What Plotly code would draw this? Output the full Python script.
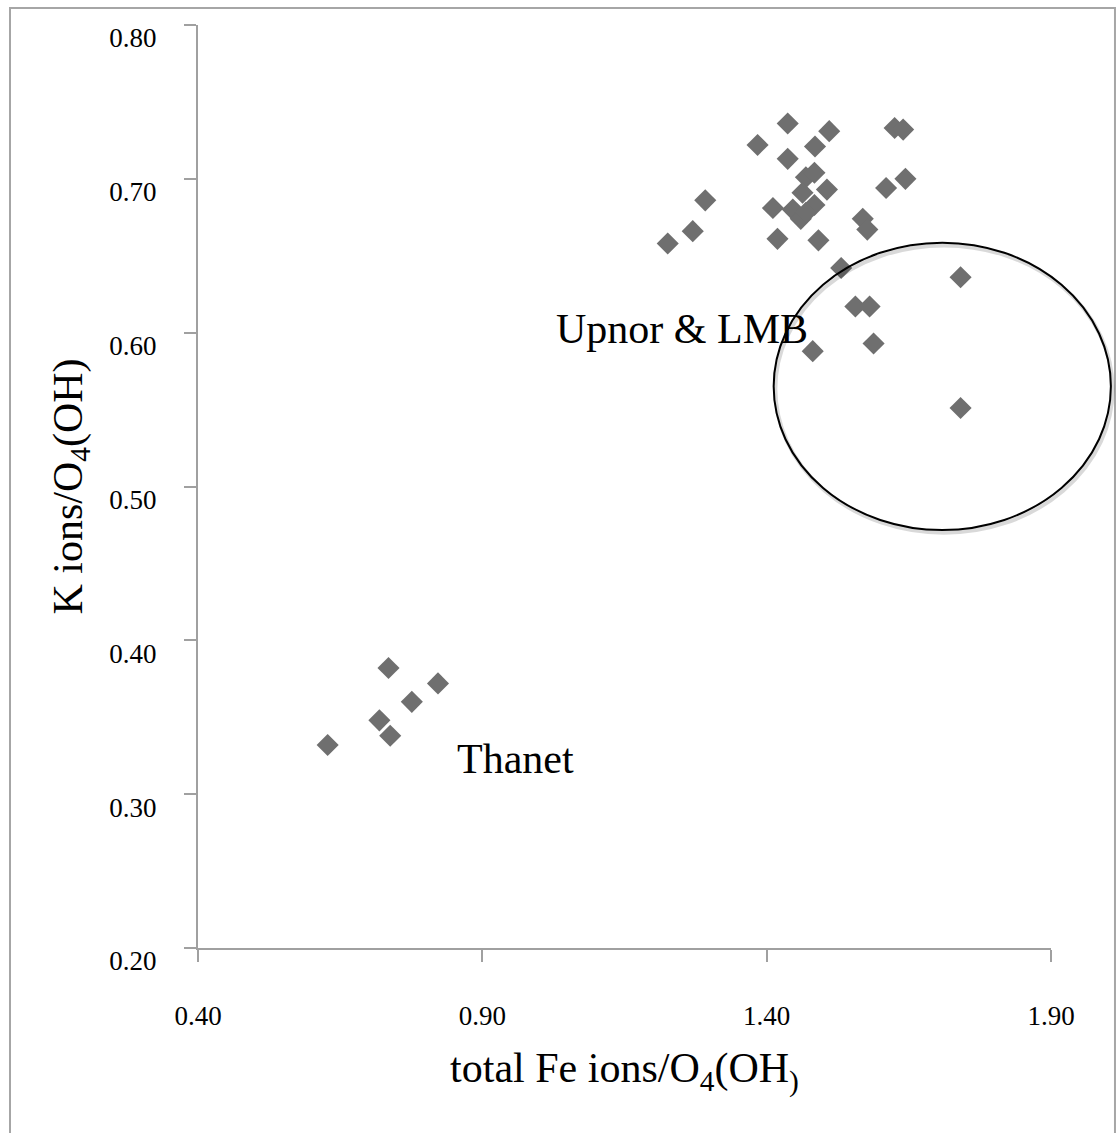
import plotly.graph_objects as go

# Upnor & LMB samples
upnor_fe = [1.437, 1.510, 1.384, 1.485, 1.437, 1.625, 1.640, 1.469, 1.484, 1.506,
            1.610, 1.644, 1.292, 1.411, 1.569, 1.577, 1.226, 1.270, 1.419, 1.491,
            1.531, 1.741, 1.556, 1.581, 1.481, 1.588, 1.741,
            1.463, 1.484, 1.446, 1.460, 1.469]
upnor_k = [0.736, 0.731, 0.722, 0.721, 0.713, 0.733, 0.732, 0.701, 0.704, 0.693,
           0.694, 0.700, 0.686, 0.681, 0.674, 0.667, 0.658, 0.666, 0.661, 0.660,
           0.642, 0.636, 0.617, 0.617, 0.588, 0.593, 0.551,
           0.691, 0.683, 0.680, 0.674, 0.678]

# Thanet samples
thanet_fe = [0.735, 0.822, 0.776, 0.719, 0.738, 0.628]
thanet_k = [0.382, 0.372, 0.360, 0.348, 0.338, 0.332]

x_range = [0.40, 1.90]
y_range = [0.20, 0.80]
x_ticks = [0.40, 0.90, 1.40, 1.90]
y_ticks = [0.20, 0.30, 0.40, 0.50, 0.60, 0.70, 0.80]

# highlighted group ellipse (data units)
ell_cx, ell_cy, ell_rx, ell_ry = 1.7088, 0.5651, 0.2965, 0.0934

FONT = "Liberation Serif"
AX = "#a0a0a0"
MK = "#6f6f6f"

fig = go.Figure()
fig.add_trace(go.Scatter(x=upnor_fe + thanet_fe, y=upnor_k + thanet_k, mode="markers",
                         marker=dict(symbol="diamond", size=17, color=MK,
                                     line=dict(width=0)),
                         showlegend=False, cliponaxis=False))

def px(x):
    return (x - x_range[0]) / (x_range[1] - x_range[0])

def py(y):
    return (y - y_range[0]) / (y_range[1] - y_range[0])

# soft shadow then ellipse
fig.add_shape(type="circle", xref="paper", yref="paper",
              x0=px(ell_cx - ell_rx) + 0.002, x1=px(ell_cx + ell_rx) + 0.002,
              y0=py(ell_cy - ell_ry) - 0.003, y1=py(ell_cy + ell_ry) - 0.003,
              line=dict(color="rgba(0,0,0,0.15)", width=4))
fig.add_shape(type="circle", xref="paper", yref="paper",
              x0=px(ell_cx - ell_rx), x1=px(ell_cx + ell_rx),
              y0=py(ell_cy - ell_ry), y1=py(ell_cy + ell_ry),
              line=dict(color="black", width=2))

# outer chart frame
fig.add_shape(type="rect", xref="paper", yref="paper",
              x0=-0.2204, x1=1.075, y0=-0.25, y1=1.0184,
              line=dict(color="#a6a6a6", width=2), layer="below")

fig.add_annotation(x=1.251, y=0.6025, text="Upnor & LMB", showarrow=False,
                   font=dict(family=FONT, size=42, color="black"))
fig.add_annotation(x=0.958, y=0.3227, text="Thanet", showarrow=False,
                   font=dict(family=FONT, size=42, color="black"))

fig.update_layout(
    width=1117, height=1133,
    margin=dict(l=198, r=66, t=25, b=185),
    paper_bgcolor="white", plot_bgcolor="white",
    font=dict(family=FONT, color="black"),
    xaxis=dict(range=x_range, tickvals=x_ticks, tickformat=".2f",
               showgrid=False, zeroline=False, showline=True, linecolor=AX, linewidth=2,
               ticks="outside", ticklen=12, tickwidth=2, tickcolor=AX,
               tickfont=dict(family=FONT, size=27, color="black"),
               ticklabelstandoff=31,
               title=dict(text="total Fe ions/O<sub>4</sub>(OH<sub>)</sub>",
                          font=dict(family=FONT, size=42, color="black"), standoff=22)),
    yaxis=dict(range=y_range, tickvals=y_ticks, tickformat=".2f",
               showgrid=False, zeroline=False, showline=True, linecolor=AX, linewidth=2,
               ticks="outside", ticklen=12, tickwidth=2, tickcolor=AX,
               tickfont=dict(family=FONT, size=27, color="black"),
               ticklabelstandoff=22, ticklabelshift=13,
               title=dict(text="K ions/O<sub>4</sub>(OH)",
                          font=dict(family=FONT, size=42, color="black"), standoff=14)),
)

fig.write_html("out.html")
